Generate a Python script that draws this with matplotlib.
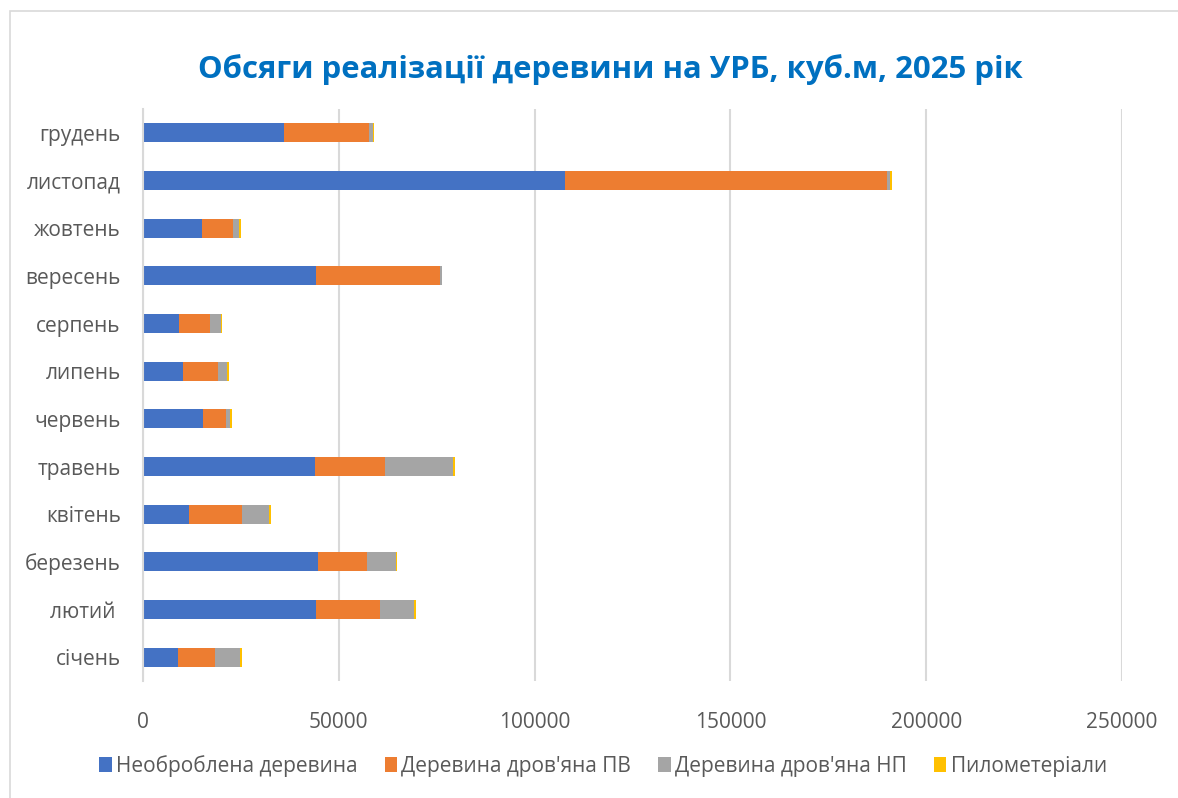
import numpy as np
import matplotlib
matplotlib.use("Agg")
import matplotlib.pyplot as plt
from matplotlib.patches import Rectangle

# months, bottom to top as in the chart
months = ["січень", "лютий ", "березень", "квітень", "травень", "червень",
          "липень", "серпень", "вересень", "жовтень", "листопад", "грудень"]

# volumes, cubic metres
raw_wood = [8900, 44200, 44600, 11700, 43800, 15400, 10200, 9300, 44100, 15100, 107700, 36000]
firewood_pv = [9500, 16300, 12500, 13500, 17900, 5700, 8900, 7900, 31700, 8000, 82400, 21800]
firewood_np = [6300, 8600, 7600, 7000, 17500, 1000, 2300, 2700, 500, 1400, 700, 900]
lumber = [500, 500, 200, 500, 600, 500, 500, 400, 100, 400, 500, 200]

series_names = ["Необроблена деревина", "Деревина дров'яна ПВ",
                "Деревина дров'яна НП", "Пилометеріали"]
colors = ["#4472C4", "#ED7D31", "#A5A5A5", "#FFC000"]

plt.rcParams['font.family'] = ['Open Sans', 'DejaVu Sans']

fig = plt.figure(figsize=(11.78, 7.98), dpi=100)
# chart frame
fig.patches.append(Rectangle((10 / 1178, -0.01), 1.2, 1 - 11 / 798 + 0.01,
                             transform=fig.transFigure, fill=False,
                             edgecolor="#D9D9D9", linewidth=1.2))

ax = fig.add_axes([143 / 1178, 1 - 681 / 798, (1122 - 143) / 1178, (681 - 109) / 798])

y = np.arange(len(months))
left = np.zeros(len(months))
for vals, name, c in zip([raw_wood, firewood_pv, firewood_np, lumber], series_names, colors):
    ax.barh(y, vals, left=left, height=0.4, color=c, label=name, zorder=3)
    left += np.array(vals)

ax.set_xlim(0, 250000)
ax.set_ylim(-0.5, len(months) - 0.5)
ax.set_xticks(np.arange(0, 250001, 50000))
ax.set_yticks(y)
ax.set_yticklabels(months)
ax.tick_params(axis='both', length=0, labelsize=15, labelcolor="#595959")
ax.tick_params(axis='x', pad=22)
ax.tick_params(axis='y', pad=16)
ax.grid(axis='x', color="#D9D9D9", linewidth=1.5, zorder=0)
for s in ['top', 'right', 'bottom']:
    ax.spines[s].set_visible(False)
ax.spines['left'].set_color("#D9D9D9")
ax.spines['left'].set_linewidth(1.5)
ax.spines['left'].set_zorder(4)

fig.text(0.518, 1 - 70 / 798, "Обсяги реалізації деревини на УРБ, куб.м, 2025 рік",
         ha='center', va='center', fontsize=22.4, fontweight='bold', color="#0070C0")

fig.legend(loc='center', bbox_to_anchor=(0.512, 1 - 766 / 798), ncol=4, frameon=False,
           fontsize=15, handlelength=0.6, handleheight=0.7, handletextpad=0.2,
           columnspacing=1.3, labelcolor="#595959")

fig.savefig("out.png", dpi=100)
